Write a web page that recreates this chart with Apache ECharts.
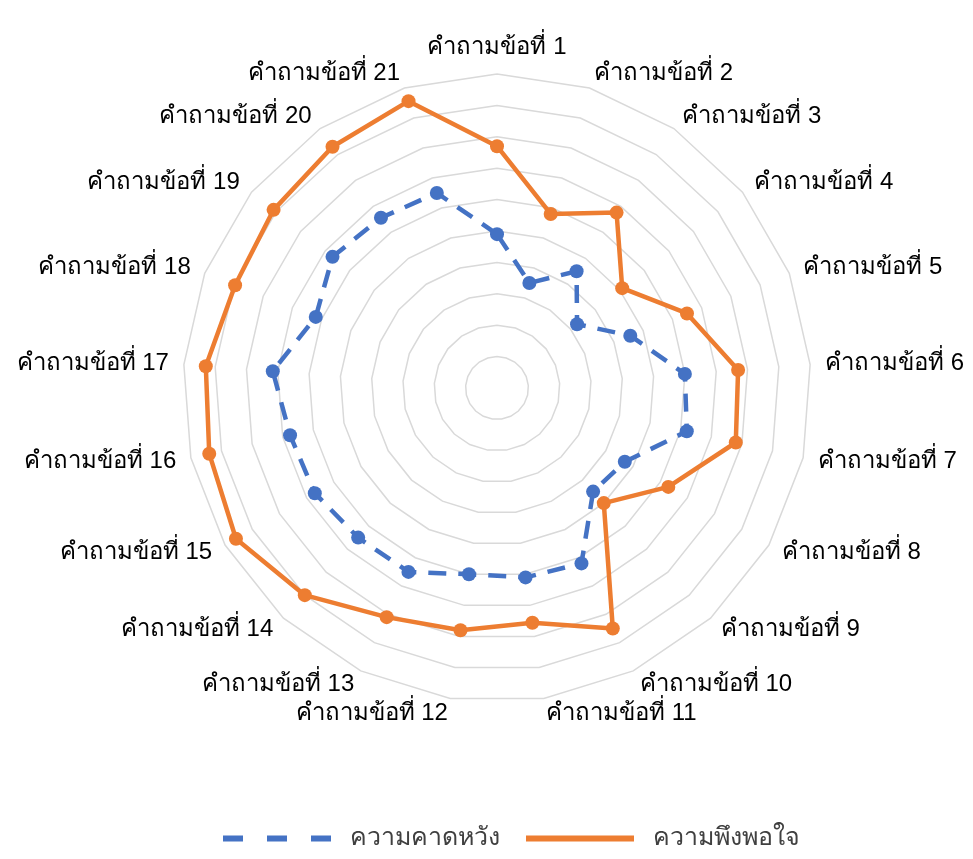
<!DOCTYPE html>
<html>
<head>
<meta charset="utf-8">
<script src="https://cdn.jsdelivr.net/npm/echarts@6/dist/echarts.min.js"></script>
<style>
  html, body { margin: 0; padding: 0; background: #fff; }
  #chart { width: 973px; height: 859px; }
</style>
</head>
<body>
<div id="chart"></div>
<script>
// questions 1..21, scale 0-5
const questions = ['คำถามข้อที่ 1','คำถามข้อที่ 2','คำถามข้อที่ 3','คำถามข้อที่ 4','คำถามข้อที่ 5','คำถามข้อที่ 6','คำถามข้อที่ 7',
  'คำถามข้อที่ 8','คำถามข้อที่ 9','คำถามข้อที่ 10','คำถามข้อที่ 11','คำถามข้อที่ 12','คำถามข้อที่ 13','คำถามข้อที่ 14',
  'คำถามข้อที่ 15','คำถามข้อที่ 16','คำถามข้อที่ 17','คำถามข้อที่ 18','คำถามข้อที่ 19','คำถามข้อที่ 20','คำถามข้อที่ 21'];
const expectation = [2.45, 1.75, 2.25, 1.63, 2.28, 3.0, 3.1, 2.35, 2.25, 3.1, 3.05, 3.0, 3.25, 3.25, 3.35, 3.38, 3.58, 3.1, 3.35, 3.28, 3.25];
const satisfaction = [3.85, 2.9, 3.38, 2.55, 3.25, 3.85, 3.9, 3.15, 2.5, 4.25, 3.78, 3.9, 4.05, 4.5, 4.8, 4.7, 4.65, 4.48, 4.55, 4.65, 4.78];
const maxValue = 5;

const blue = '#4472C4';
const orange = '#ED7D31';
const fontStack = '"Liberation Sans", Arial, "DejaVu Sans", sans-serif';

// echarts radar goes counter-clockwise, the original goes clockwise:
// keep item 1 on top and reverse the rest
function clockwise(arr) {
  return [arr[0]].concat(arr.slice(1).reverse());
}

let el = document.getElementById('chart');
let myChart = echarts.init(el);

myChart.setOption({
  animation: false,
  legend: {
    bottom: 3,
    left: 218,
    itemWidth: 108,
    itemHeight: 6,
    itemGap: 26,
    textStyle: { fontSize: 25, color: '#404040', fontFamily: fontStack, padding: [0, 0, 0, 14] },
    data: [
      { name: 'ความคาดหวัง', icon: 'path://M0,0h20v6h-20z M44,0h20v6h-20z M88,0h20v6h-20z', itemStyle: { color: blue } },
      { name: 'ความพึงพอใจ', icon: 'path://M0,0h108v6h-108z', itemStyle: { color: orange } }
    ]
  },
  radar: {
    center: [497, 388],
    radius: 314,
    startAngle: 90,
    shape: 'polygon',
    splitNumber: 10,
    indicator: clockwise(questions).map((q) => ({ name: q, min: 0, max: maxValue })),
    axisName: { color: '#000', fontSize: 24, fontFamily: fontStack },
    nameGap: 15,
    axisLine: { show: false },
    axisTick: { show: false },
    axisLabel: { show: false },
    splitArea: { show: false },
    splitLine: { lineStyle: { color: '#d9d9d9', width: 1.5 } }
  },
  series: [
    {
      type: 'radar',
      symbol: 'circle',
      symbolSize: 14,
      data: [
        {
          name: 'ความคาดหวัง',
          value: clockwise(expectation),
          itemStyle: { color: blue },
          lineStyle: { color: blue, width: 4.5, type: [18, 12] }
        },
        {
          name: 'ความพึงพอใจ',
          value: clockwise(satisfaction),
          itemStyle: { color: orange },
          lineStyle: { color: orange, width: 4.5 }
        }
      ]
    }
  ]
});
</script>
</body>
</html>
